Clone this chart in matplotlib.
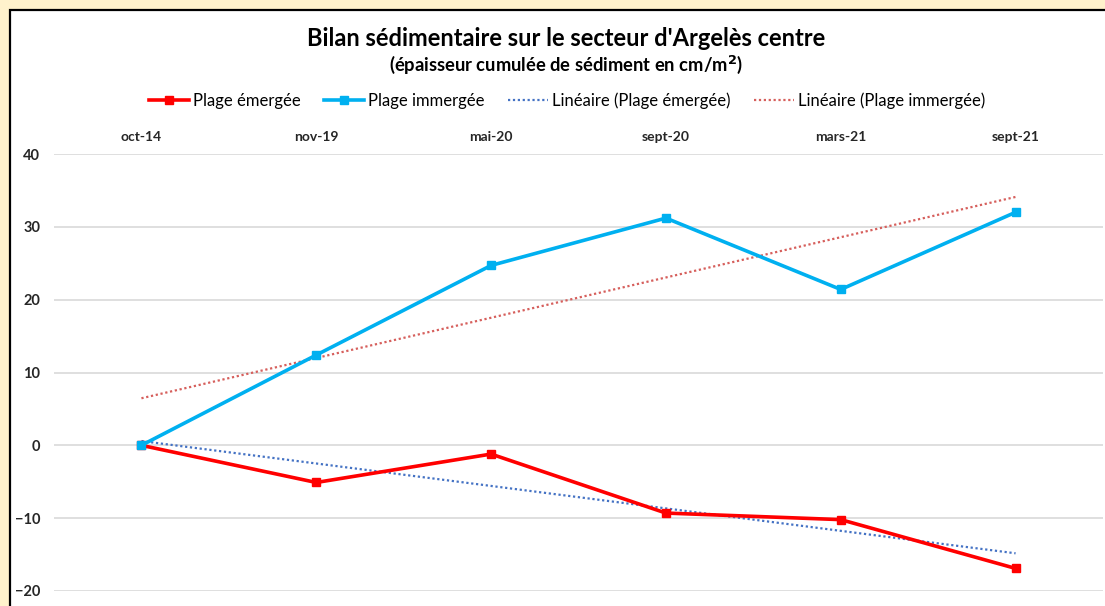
import numpy as np
import matplotlib.pyplot as plt
from matplotlib.patches import Rectangle

# Données
dates = ['oct-14', 'nov-19', 'mai-20', 'sept-20', 'mars-21', 'sept-21']
plage_emergee = [0.0, -5.1, -1.2, -9.3, -10.2, -16.9]
plage_immergee = [0.0, 12.4, 24.7, 31.2, 21.4, 32.0]

plt.rcParams['font.family'] = ['Lato', 'DejaVu Sans']

fig = plt.figure(figsize=(11.05, 6.06), dpi=100)
fig.patch.set_facecolor('#FFF2CC')

# cadre blanc du graphique
cadre = Rectangle((10 / 1105, -0.2), 1.2, (596 / 606) + 0.2, transform=fig.transFigure,
                  facecolor='white', edgecolor='black', linewidth=1.6, zorder=0)
fig.patches.append(cadre)

ax = fig.add_axes([54 / 1105, 15 / 606, 1049 / 1105, 437 / 606])
ax.set_facecolor('none')
ax.set_zorder(3)

x = np.arange(len(dates))

# droites de tendance (régression linéaire)
p_em = np.polyfit(x, plage_emergee, 1)
p_im = np.polyfit(x, plage_immergee, 1)

l1, = ax.plot(x, plage_emergee, color='#FF0000', lw=2.6, marker='s', ms=6, zorder=4)
l2, = ax.plot(x, plage_immergee, color='#00B0F0', lw=2.6, marker='s', ms=6, zorder=4)
l3, = ax.plot(x, np.polyval(p_em, x), color='#4472C4', lw=1.6, ls=(0, (1, 1.2)), zorder=3)
l4, = ax.plot(x, np.polyval(p_im, x), color='#D65F5C', lw=1.6, ls=(0, (1, 1.2)), zorder=3)

ax.set_xlim(-0.5, 5.5)
ax.set_ylim(-20, 40)
ax.set_yticks(range(-20, 41, 10))
ax.grid(axis='y', color='#D9D9D9', lw=1.2)
ax.set_axisbelow(True)
for s in ax.spines.values():
    s.set_visible(False)

ax.set_xticks(x)
ax.set_xticklabels(dates, fontweight='bold', fontsize=10, color='#262626')
ax.xaxis.tick_top()
ax.tick_params(axis='x', length=0, pad=8)
ax.tick_params(axis='y', length=0, pad=10, labelsize=10.5, labelcolor='#262626')
for t in ax.get_yticklabels():
    t.set_fontweight('bold')

# titres
fig.text(566 / 1105, 1 - 38 / 606, "Bilan sédimentaire sur le secteur d'Argelès centre",
         ha='center', va='center', fontsize=17, fontweight='bold')
fig.text(566 / 1105, 1 - 65 / 606, '(épaisseur cumulée de sédiment en cm/m$^{\\mathbf{2}}$)',
         ha='center', va='center', fontsize=13.2, fontweight='bold')

fig.legend([l1, l2, l3, l4],
           ['Plage émergée', 'Plage immergée', 'Linéaire (Plage émergée)', 'Linéaire (Plage immergée)'],
           loc='center', bbox_to_anchor=(567 / 1105, 1 - 101 / 606), ncol=4, frameon=False,
           fontsize=12, handlelength=2.4, handletextpad=0.25, columnspacing=1.4)

fig.savefig('out.png', dpi=100, facecolor=fig.get_facecolor())
